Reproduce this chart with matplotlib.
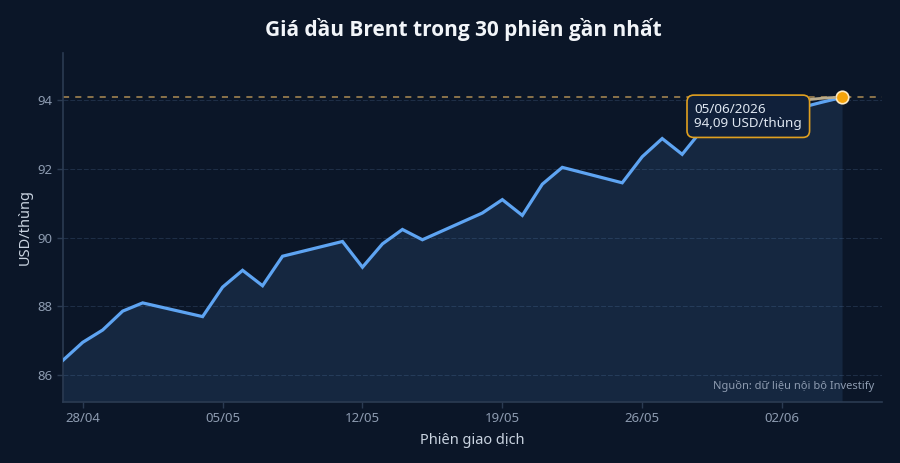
import matplotlib
matplotlib.use("Agg")
import matplotlib.pyplot as plt
import matplotlib.dates as mdates
import pandas as pd

# ---- data ----
dates = pd.bdate_range("2026-04-27", "2026-06-05")   # 30 sessions
prices = [86.42, 86.95, 87.31, 87.86, 88.10,
          87.70, 88.56, 89.05, 88.60, 89.46,
          89.89, 89.14, 89.82, 90.24, 89.94,
          90.72, 91.11, 90.65, 91.56, 92.05,
          91.60, 92.36, 92.89, 92.43, 93.15,
          93.30, 93.65, 93.80, 93.95, 94.09]
xtick_dates = ["2026-04-28", "2026-05-05", "2026-05-12", "2026-05-19", "2026-05-26", "2026-06-02"]
yticks = [86, 88, 90, 92, 94]
title = "Giá dầu Brent trong 30 phiên gần nhất"
source = "Nguồn: dữ liệu nội bộ Investify"
tooltip = "05/06/2026\n94,09 USD/thùng"

BG = "#0b1628"
LINE = "#5ea4f2"
TXT = "#8d9bb0"
SPINE = "#2b3b52"

plt.rcParams["font.family"] = ["Noto Sans", "DejaVu Sans"]

fig = plt.figure(figsize=(9, 4.63), dpi=100, facecolor=BG)
ax = fig.add_axes([0.0697, 0.1324, 0.9103, 0.7536])
ax.set_facecolor(BG)

ymin, ymax = 85.22, 95.39
ax.set_ylim(ymin, ymax)
ax.set_xlim(dates[0], pd.Timestamp("2026-06-07"))

ax.fill_between(dates, prices, ymin, color=LINE, alpha=0.12, linewidth=0, zorder=1)
ax.plot(dates, prices, color=LINE, lw=2.3, zorder=3, solid_joinstyle="miter")

last = prices[-1]
ax.axhline(last, color="#c9a05c", lw=1.1, ls=(0, (4, 4)), alpha=0.85, zorder=2)
ax.plot([dates[-1]], [last], "o", ms=9, color="#f5a30a", mec="#ffe9c0", mew=1.2, zorder=5)

ax.annotate(tooltip, xy=(dates[-1], last), xytext=(-67.5, -13.6),
            textcoords="offset points", ha="center", va="center", multialignment="left",
            fontsize=9.7, color="#dfe7f1", linespacing=1.15,
            bbox=dict(boxstyle="round,pad=0.55,rounding_size=0.5", fc="#10203a", ec="#e0a020", lw=1.2),
            arrowprops=dict(arrowstyle="-", color="#b9ab8c", lw=2, connectionstyle="arc3,rad=-0.1",
                            shrinkA=0, shrinkB=5),
            zorder=6)

ax.set_yticks(yticks)
ax.set_yticklabels([str(v) for v in yticks])
ax.set_xticks(pd.to_datetime(xtick_dates))
ax.xaxis.set_major_formatter(mdates.DateFormatter("%d/%m"))
ax.tick_params(axis="both", colors=SPINE, labelcolor=TXT, labelsize=9.5, length=4, width=1)
ax.grid(axis="y", color="#1f2f47", lw=0.7, ls=(0, (5, 2)))
ax.set_axisbelow(True)

for s in ["top", "right"]:
    ax.spines[s].set_visible(False)
for s in ["left", "bottom"]:
    ax.spines[s].set_color(SPINE)
    ax.spines[s].set_linewidth(1.2)

ax.set_xlabel("Phiên giao dịch", color="#c9d3e0", fontsize=10.5, labelpad=6)
ax.set_ylabel("USD/thùng", color="#c9d3e0", fontsize=10.5)
ax.yaxis.set_label_coords(-0.036, 0.5)

fig.text(0.5146, 0.937, title, ha="center", va="center", color="#f2f5f9", fontsize=15,
         fontweight="bold", family=["Open Sans", "Noto Sans", "DejaVu Sans"])
ax.text(0.99, 0.045, source, transform=ax.transAxes, ha="right", va="center", color=TXT, fontsize=8)

fig.savefig("out.png", dpi=100, facecolor=BG)
